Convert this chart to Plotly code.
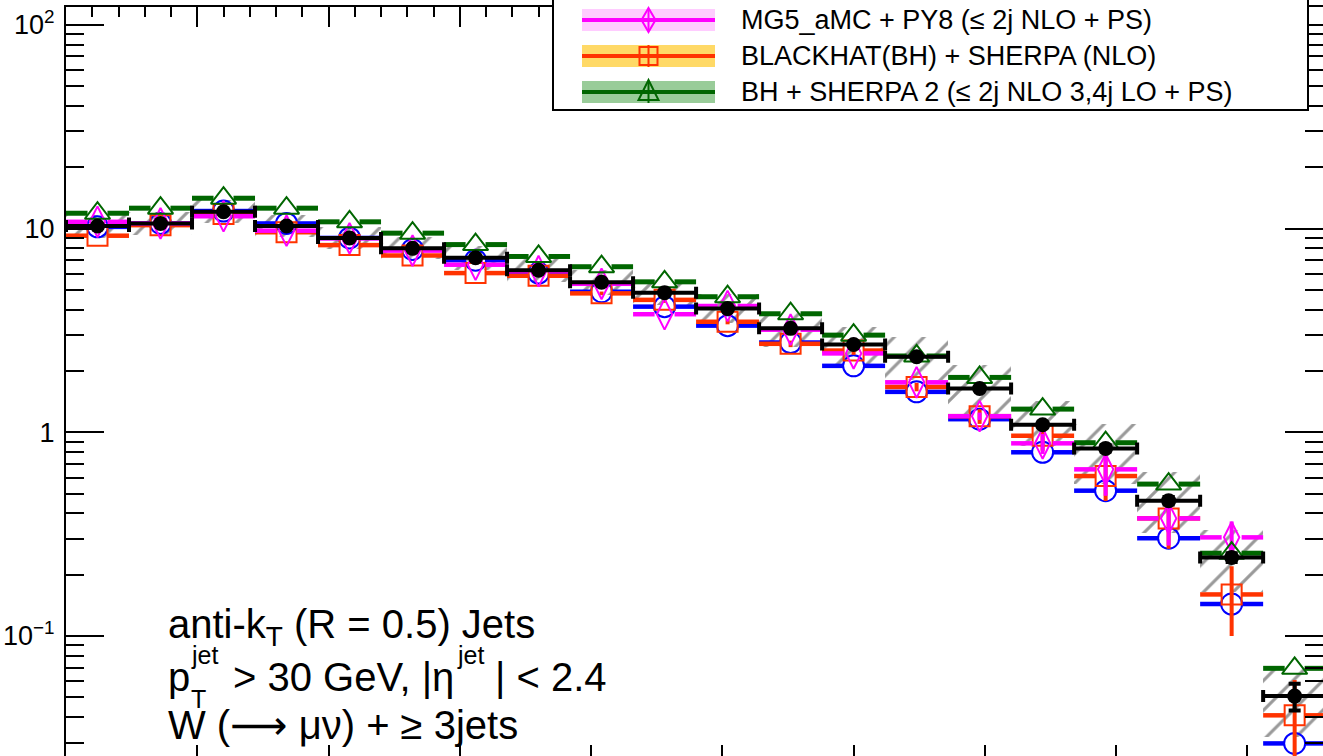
import plotly.graph_objects as go

# ---------------- data ----------------
eta_edges = [0.00, 0.12, 0.24, 0.36, 0.48, 0.60, 0.72, 0.84, 0.96, 1.08, 1.20,
             1.32, 1.44, 1.56, 1.68, 1.80, 1.92, 2.04, 2.16, 2.28, 2.40]

data_val = [10.3, 10.6, 12.1, 10.3, 9.0, 8.0, 7.2, 6.25, 5.45, 4.85,
            4.05, 3.24, 2.70, 2.35, 1.64, 1.09, 0.834, 0.462, 0.243, 0.0507]
data_stat = [0.10, 0.10, 0.12, 0.10, 0.09, 0.08, 0.07, 0.06, 0.06, 0.05,
             0.05, 0.04, 0.04, 0.04, 0.03, 0.03, 0.03, 0.02, 0.012, 0.0076]
syst_lo = [9.0, 9.3, 10.6, 9.1, 7.9, 7.1, 6.3, 5.5, 4.7, 4.2,
           3.45, 2.63, 2.15, 1.80, 1.20, 0.86, 0.56, 0.32, 0.165, 0.032]
syst_hi = [11.7, 12.1, 13.8, 11.7, 10.2, 9.1, 8.2, 7.1, 6.3, 5.6,
           4.75, 3.84, 3.30, 2.95, 2.15, 1.42, 1.10, 0.64, 0.33, 0.070]

mgpy6_val = [10.2, 10.6, 12.2, 10.6, 9.0, 7.9, 7.0, 6.05, 4.9, 4.14,
             3.34, 2.76, 2.12, 1.58, 1.16, 0.798, 0.517, 0.302, 0.1436, 0.0297]

mg5_val = [10.8, 10.6, 11.5, 9.77, 8.96, 7.8, 6.65, 6.18, 5.36, 3.80,
           4.17, 3.19, 2.44, 1.76, 1.20, 0.883, 0.658, 0.378, 0.305, None]
mg5_err = [0, 0, 0, 0, 0, 0, 0, 0, 0, 0,
           0, 0, 0, 0, 0.05, 0.10, 0.17, 0.10, 0.06, 0]

bh_val = [9.23, 10.4, 11.8, 9.6, 8.3, 7.38, 6.05, 5.87, 4.81, 4.47,
          3.49, 2.72, 2.52, 1.67, 1.20, 0.962, 0.61, 0.378, 0.16, 0.0408]
bh_err = [0, 0, 0, 0, 0, 0, 0, 0, 0.10, 0.15,
          0.10, 0.10, 0.12, 0.08, 0.10, 0.15, 0.15, 0.11, 0.06, 0.02]

bhs2_val = [11.9, 12.6, 14.1, 12.6, 10.8, 9.5, 8.35, 7.3, 6.5, 5.48,
            4.63, 3.82, 3.00, 2.37, 1.86, 1.30, 0.889, 0.557, 0.255, 0.0694]

legend_labels = ["MG5_aMC + PY8 (\u2264 2j NLO + PS)",
                 "BLACKHAT(BH) + SHERPA (NLO)",
                 "BH + SHERPA 2 (\u2264 2j NLO 3,4j LO + PS)"]

y_major = [0.1, 1, 10, 100]
y_major_text = ["10<sup>\u22121</sup>", "1", "10", "10<sup>2</sup>"]
x_major = [0.0, 0.25, 0.5, 0.75, 1.0, 1.25, 1.5, 1.75, 2.0, 2.25]

# ---------------- styling ----------------
W, H = 1323, 756
ML, MT = 66, 7
PW, PH = W - ML, H - MT
FONT = "Liberation Sans, Arial, Helvetica, sans-serif"

C_BLUE = "#0000ff"
C_MAG = "#ff00ff"
C_ORA = "#ff3300"
C_GRN = "#006600"

lo_edges = eta_edges[:-1]
hi_edges = eta_edges[1:]
centers = [(a + b) / 2 for a, b in zip(lo_edges, hi_edges)]
widths = [b - a for a, b in zip(lo_edges, hi_edges)]
gap = 0.019  # half gap around marker, in x units


def seg_xy(vals):
    xs, ys = [], []
    for lo, hi, c, v in zip(lo_edges, hi_edges, centers, vals):
        if v is None:
            continue
        xs += [lo, c - gap, None, c + gap, hi, None]
        ys += [v, v, None, v, v, None]
    return xs, ys


fig = go.Figure()

# hatched systematic band of data
fig.add_trace(go.Bar(
    x=centers, y=[h - l for h, l in zip(syst_hi, syst_lo)], base=syst_lo,
    width=widths,
    marker=dict(color="rgba(0,0,0,0)", line=dict(width=0),
                pattern=dict(shape="/", fgcolor="#333333", bgcolor="rgba(0,0,0,0)",
                             size=21, solidity=0.15)),
    showlegend=False, hoverinfo="skip"))


def add_series(vals, color, symbol, size, errs=None, lw=4.5):
    xs, ys = seg_xy(vals)
    fig.add_trace(go.Scatter(x=xs, y=ys, mode="lines",
                             line=dict(color=color, width=lw),
                             showlegend=False, hoverinfo="skip"))
    cx = [c for c, v in zip(centers, vals) if v is not None]
    cy = [v for v in vals if v is not None]
    ey = None
    if errs is not None:
        ce = [e for e, v in zip(errs, vals) if v is not None]
        ey = dict(type="data", array=ce, visible=True, color=color,
                  thickness=4, width=0)
    fig.add_trace(go.Scatter(x=cx, y=cy, mode="markers",
                             marker=dict(symbol=symbol, size=size, color=color,
                                         line=dict(color=color, width=2)),
                             error_y=ey, showlegend=False, hoverinfo="skip"))


add_series(mgpy6_val, C_BLUE, "circle-open", 21)
add_series(bh_val, C_ORA, "square-open", 20, bh_err)
add_series(mg5_val, C_MAG, "diamond-tall-open", 22, mg5_err)
add_series(bhs2_val, C_GRN, "triangle-up-open", 22, lw=5)

# data
fig.add_trace(go.Scatter(
    x=centers, y=data_val, mode="markers",
    marker=dict(symbol="circle", size=15, color="black"),
    error_x=dict(type="data", array=[w / 2 for w in widths], color="black",
                 thickness=4, width=6),
    error_y=dict(type="data", array=data_stat, color="black", thickness=4, width=6),
    showlegend=False, hoverinfo="skip"))

# ---------------- axes ----------------
y_minor = [m * 10 ** e for e in (-2, -1, 0, 1) for m in range(2, 10)]
ylog_range = [-1.589, 2.088]
tickfont = dict(family=FONT, size=27, color="black")

fig.update_layout(
    width=W, height=H,
    margin=dict(l=ML, r=0, t=MT, b=0, pad=0),
    paper_bgcolor="white", plot_bgcolor="white",
    showlegend=False, bargap=0,
    xaxis=dict(range=[0, 2.394], side="bottom", showline=False, showgrid=False,
               zeroline=False, ticks="inside", ticklen=11, tickwidth=2,
               tickcolor="black", tickmode="array", tickvals=x_major,
               showticklabels=False),
    xaxis2=dict(range=[0, 2.394], overlaying="x", side="top", anchor="y",
                showline=True, linecolor="black", linewidth=2,
                showgrid=False, zeroline=False, ticks="inside", ticklen=20,
                tickwidth=2, tickcolor="black", tickmode="array",
                tickvals=x_major, showticklabels=False,
                minor=dict(ticks="inside", ticklen=10, tickwidth=2,
                           tickcolor="black", dtick=0.05, tick0=0)),
    yaxis=dict(type="log", range=ylog_range, side="left", showline=True,
               linecolor="black", linewidth=2, showgrid=False, zeroline=False,
               ticks="inside", ticklen=38, tickwidth=2, tickcolor="black",
               tickmode="array", tickvals=y_major, ticktext=y_major_text,
               tickfont=tickfont, ticklabelstandoff=4,
               minor=dict(ticks="inside", ticklen=18, tickwidth=2,
                          tickcolor="black", tickmode="array", tickvals=y_minor)),
    yaxis2=dict(type="log", range=ylog_range, overlaying="y", side="right",
                anchor="x", showline=False, showgrid=False, zeroline=False,
                ticks="inside", ticklen=38, tickwidth=2, tickcolor="black",
                tickmode="array", tickvals=y_major, showticklabels=False,
                minor=dict(ticks="inside", ticklen=18, tickwidth=2,
                           tickcolor="black", tickmode="array", tickvals=y_minor)),
)

# dummy trace to activate x2/y2
fig.add_trace(go.Scatter(x=[None], y=[None], xaxis="x2", yaxis="y2",
                         showlegend=False, hoverinfo="skip"))


def px(xpix):
    return (xpix - ML) / PW


def py(ypix):
    return (H - ypix) / PH


def path(points):
    return "M " + " L ".join(f"{px(a):.5f},{py(b):.5f}" for a, b in points) + " Z"


# ---------------- legend (custom, ROOT style, drawn above the frame) ----------------
shapes = []
shapes.append(dict(type="rect", xref="paper", yref="paper",
                   x0=px(553), x1=px(1308), y0=py(110), y1=py(-5),
                   line=dict(color="black", width=2), fillcolor="white",
                   layer="above"))
rows = [20, 56, 92]
band_cols = ["#ffccff", "#ffd966", "#99cc99"]
line_cols = [C_MAG, C_ORA, C_GRN]
MX = 648.5
for r, bc, lc in zip(rows, band_cols, line_cols):
    shapes.append(dict(type="rect", xref="paper", yref="paper",
                       x0=px(582), x1=px(715), y0=py(r + 11), y1=py(r - 11),
                       line=dict(width=0), fillcolor=bc, layer="above"))
    shapes.append(dict(type="line", xref="paper", yref="paper",
                       x0=px(582), x1=px(715), y0=py(r), y1=py(r),
                       line=dict(color=lc, width=4), layer="above"))
    shapes.append(dict(type="line", xref="paper", yref="paper",
                       x0=px(MX), x1=px(MX), y0=py(r + 11), y1=py(r - 11),
                       line=dict(color=lc, width=2), layer="above"))

# legend marker glyphs
r0, r1, r2 = rows
shapes.append(dict(type="path", xref="paper", yref="paper", layer="above",
                   path=path([(MX, r0 - 12), (MX + 7, r0), (MX, r0 + 12), (MX - 7, r0)]),
                   line=dict(color=C_MAG, width=2), fillcolor="rgba(0,0,0,0)"))
shapes.append(dict(type="rect", xref="paper", yref="paper", layer="above",
                   x0=px(MX - 9), x1=px(MX + 9), y0=py(r1 + 9), y1=py(r1 - 9),
                   line=dict(color=C_ORA, width=2), fillcolor="rgba(0,0,0,0)"))
shapes.append(dict(type="path", xref="paper", yref="paper", layer="above",
                   path=path([(MX, r2 - 12), (MX + 10, r2 + 8), (MX - 10, r2 + 8)]),
                   line=dict(color=C_GRN, width=2), fillcolor="rgba(0,0,0,0)"))

annotations = []
for r, lab in zip(rows, legend_labels):
    annotations.append(dict(text=lab, xref="paper", yref="paper",
                            x=px(739), y=py(r), xanchor="left", yanchor="middle",
                            showarrow=False,
                            font=dict(family=FONT, size=27, color="black")))

# ---------------- text block bottom-left ----------------
tf = dict(family=FONT, size=40, color="black")
sf = dict(family=FONT, size=25, color="black")
ARROW = "<span style='font-family:DejaVu Sans'>\u27f6</span>"
annotations += [
    dict(text="anti-k<sub>T</sub> (R = 0.5) Jets", x=px(166), y=py(627)),
    dict(text="p", x=px(166), y=py(677)),
    dict(text="jet", x=px(189), y=py(655), font=sf),
    dict(text="T", x=px(189), y=py(699), font=sf),
    dict(text="> 30 GeV, |\u03b7", x=px(231), y=py(677)),
    dict(text="jet", x=px(455), y=py(655), font=sf),
    dict(text="| < 2.4", x=px(493), y=py(677)),
    dict(text="W (" + ARROW + " \u03bc\u03bd) + \u2265 3jets", x=px(166), y=py(725)),
]
for a in annotations[len(rows):]:
    a.setdefault("font", tf)
    a.update(xref="paper", yref="paper", xanchor="left", yanchor="middle",
             showarrow=False)

fig.update_layout(shapes=shapes, annotations=annotations)

fig.write_html("out.html",
               config={"displayModeBar": False},
               post_script="document.body.style.margin='0px';"
                           "document.body.style.padding='0px';"
                           "document.body.style.overflow='hidden';")
